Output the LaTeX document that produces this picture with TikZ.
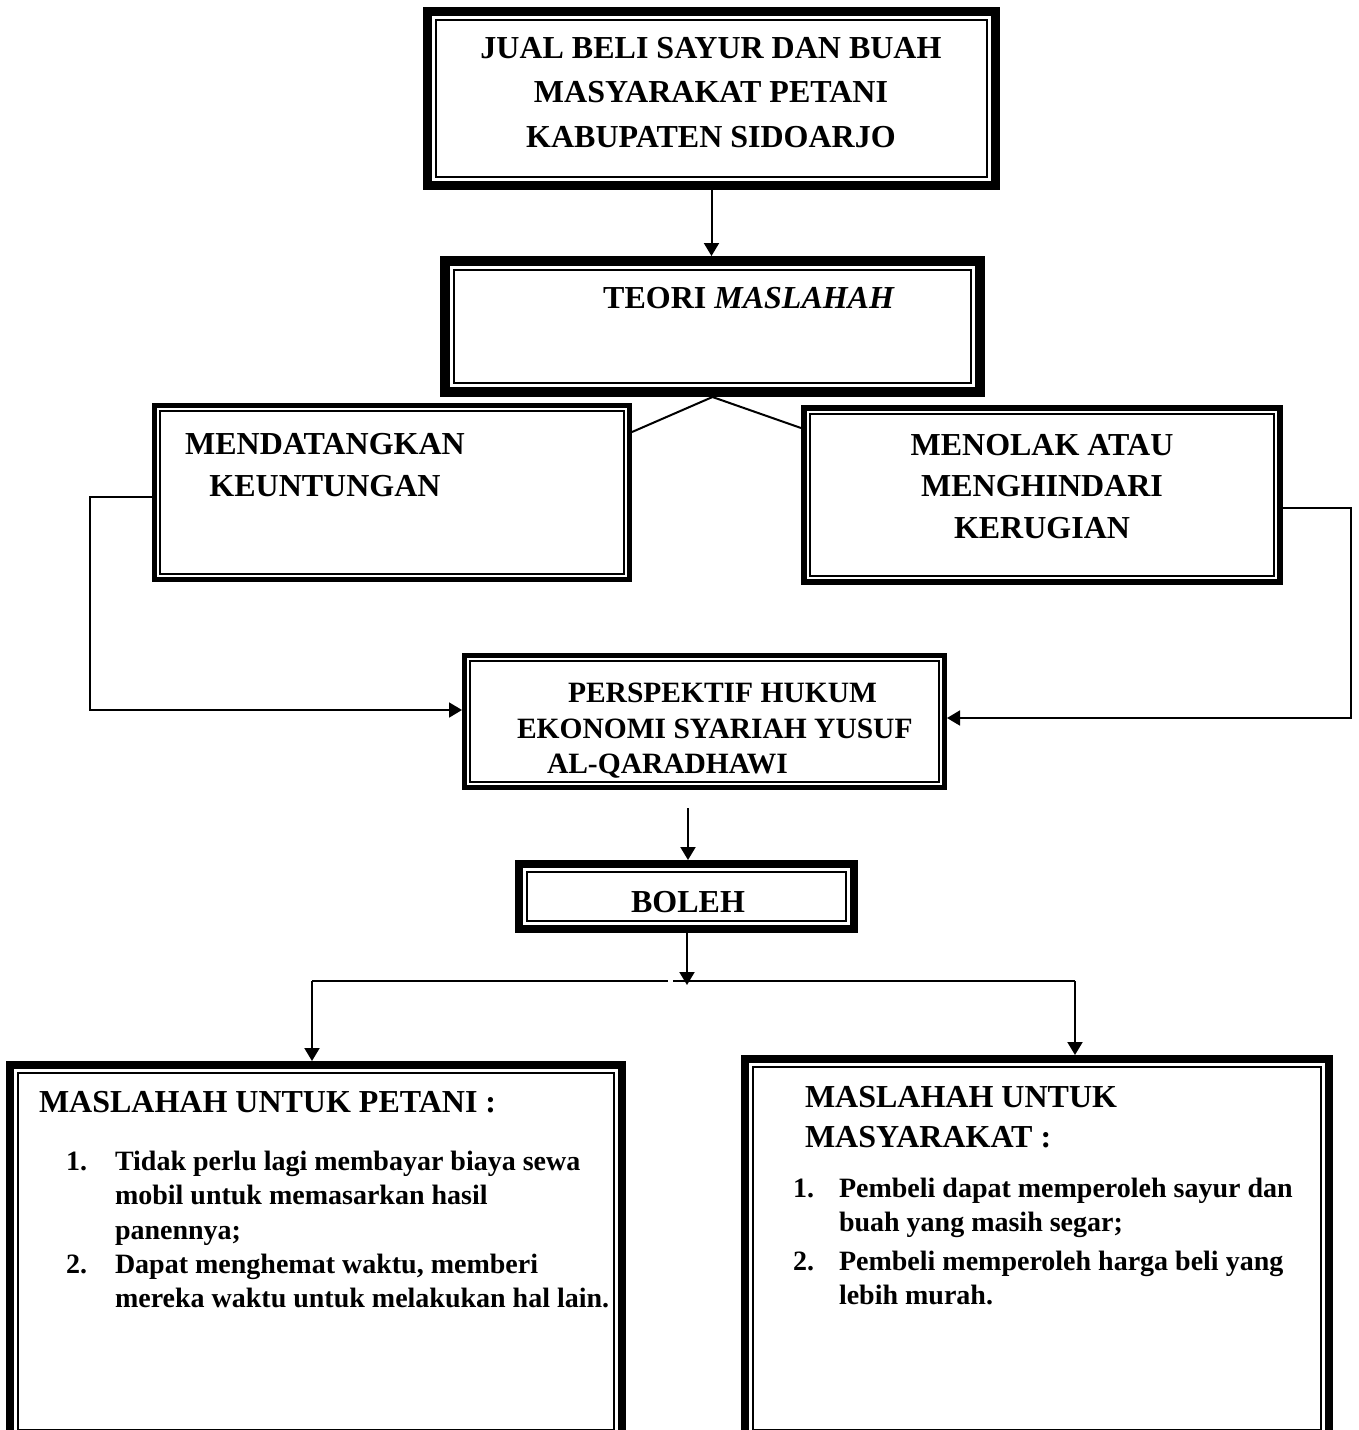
\documentclass[tikz,border=0pt]{standalone}
\usepackage{fontspec}
\setmainfont{Liberation Serif}
\usetikzlibrary{arrows.meta, calc}
\tikzset{
  every node/.style={font=\bfseries\fontsize{32}{44.5}\selectfont, inner sep=0pt, outer sep=0pt},
  BOX/.style={rectangle, draw=none},
  TXT/.style={align=center, font=\bfseries\fontsize{32}{#1}\selectfont},
  TXT/.default=44.5,
  HEAD/.style={align=left, font=\bfseries\fontsize{32}{40}\selectfont},
  PTXT/.style={align=left, font=\bfseries\fontsize{29.5}{35.5}\selectfont},
  LIST/.style={align=left, font=\bfseries\fontsize{28}{34.5}\selectfont},
  LN/.style={line width=2pt},
  AR/.style={-{Triangle[length=13pt, width=15pt]}, line width=2pt},
}
% thick outer frame + thin inner frame round a box node: #2 thick, #3 gap
\newcommand{\dframe}[3]{%
  \draw[line width=#2pt] ($(#1.north west)+(#2/2,#2/2)$) rectangle ($(#1.south east)-(#2/2,#2/2)$);
  \draw[line width=1.6pt] ($(#1.north west)+(#2+#3+0.8,#2+#3+0.8)$) rectangle ($(#1.south east)-(#2+#3+0.8,#2+#3+0.8)$);}

\begin{document}
\begin{tikzpicture}[x=1pt, y=1pt, yscale=-1]

\useasboundingbox (0,0) rectangle (1358,1430);
\clip (0,0) rectangle (1358,1430);
\fill[white] (0,0) rectangle (1358,1430);

%% top chain
\node[BOX, minimum width=577, minimum height=183] (jual) at (711.5,98.5) {};
\node[TXT] (jualT) at (711,92.5)
  {JUAL BELI SAYUR DAN BUAH\\MASYARAKAT PETANI\\KABUPATEN SIDOARJO};
\dframe{jual}{9}{3}

\node[BOX, minimum width=545, minimum height=141] (teori) at (712.5,326.5) {};
\node[TXT] (teoriT) at (749,298) {TEORI \textit{MASLAHAH}};
\dframe{teori}{10}{3}

\node[BOX, minimum width=480, minimum height=179] (mendat) at (392,492.5) {};
\node[TXT=42] (mendatT) at (325,465) {MENDATANGKAN\\KEUNTUNGAN};
\dframe{mendat}{5}{2}

\node[BOX, minimum width=482, minimum height=180] (menolak) at (1042,495) {};
\node[TXT=41.5] (menolakT) at (1042,486.5) {MENOLAK ATAU\\MENGHINDARI\\KERUGIAN};
\dframe{menolak}{6}{2}

\node[BOX, minimum width=485, minimum height=137] (persp) at (704.5,721.5) {};
\node[PTXT, anchor=north west] (perspT) at (517,683)
  {\hspace*{51pt}PERSPEKTIF HUKUM\\EKONOMI SYARIAH YUSUF\\\hspace*{30pt}AL-QARADHAWI};
\dframe{persp}{5}{2}

\node[BOX, minimum width=343, minimum height=73] (boleh) at (686.5,896.5) {};
\node[TXT] (bolehT) at (688,902) {BOLEH};
\dframe{boleh}{8}{3}

%% bottom boxes
\node[BOX, minimum width=620, minimum height=381] (petani) at (316,1251.5) {};
\node[HEAD, anchor=base west] (petaniH) at (39,1112) {MASLAHAH UNTUK PETANI :};
\node[LIST, anchor=base west] (petaniN1) at (66,1170) {1.};
\node[LIST, anchor=north west] (petaniI1) at (115,1151)
  {Tidak perlu lagi membayar biaya sewa\\mobil untuk memasarkan hasil\\panennya;};
\node[LIST, anchor=base west] (petaniN2) at (66,1273) {2.};
\node[LIST, anchor=north west] (petaniI2) at (115,1254)
  {Dapat menghemat waktu, memberi\\mereka waktu untuk melakukan hal lain.};
\dframe{petani}{8}{3}

\node[BOX, minimum width=592, minimum height=387] (masy) at (1037,1248.5) {};
\node[HEAD, anchor=north west] (masyH) at (805,1086) {MASLAHAH UNTUK\\MASYARAKAT :};
\node[LIST, anchor=base west] (masyN1) at (793,1197) {1.};
\node[LIST, anchor=north west] (masyI1) at (839,1178)
  {Pembeli dapat memperoleh sayur dan\\buah yang masih segar;};
\node[LIST, anchor=base west] (masyN2) at (793,1270) {2.};
\node[LIST, anchor=north west] (masyI2) at (839,1251)
  {Pembeli memperoleh harga beli yang\\lebih murah.};
\dframe{masy}{8}{3}

%% connectors
\draw[AR] (jual.south) -- (jual.south |- teori.north);
\draw[LN] (teori.south) -- (mendat.east |- 0,432);
\draw[LN] (teori.south) -- (menolak.west |- 0,428);
\draw[AR, line width=1.8pt] (mendat.west |- 0,497) -- (90,497) |- (persp.west |- 0,710);
\draw[AR, line width=1.8pt] (menolak.east |- 0,508) -- (1351,508) |- (persp.east |- 0,718);

\coordinate (pout) at (688,808);
\draw[AR] (pout) -- (pout |- boleh.north);

\coordinate (split) at (687,985);
\coordinate (splitL) at (312,981);
\coordinate (splitR) at (1075,981);
\coordinate (gapL) at (668,981);
\coordinate (gapR) at (673,981);
\draw[AR] (boleh.south -| split) -- (split);
\draw[LN] (splitL) -- (gapL);
\draw[LN] (gapR) -- (splitR);
\draw[AR] (splitL) -- (splitL |- petani.north);
\draw[AR] (splitR) -- (splitR |- masy.north);

\end{tikzpicture}
\end{document}
